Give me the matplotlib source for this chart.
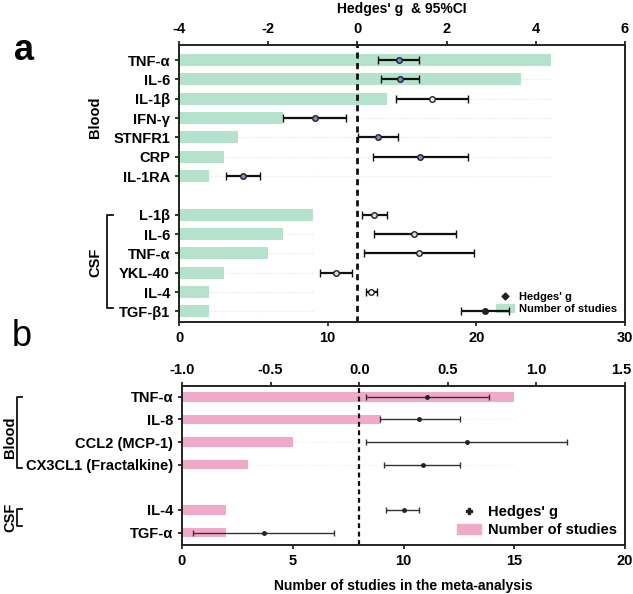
import matplotlib
matplotlib.use("Agg")
import matplotlib.pyplot as plt
import matplotlib.transforms as mtransforms
from matplotlib.lines import Line2D
from matplotlib.patches import Patch
import numpy as np

plt.rcParams['font.family'] = ['Liberation Sans', 'DejaVu Sans']
plt.rcParams['font.weight'] = 'bold'
plt.rcParams['axes.unicode_minus'] = False

# ---------------- Panel a data ----------------
a_labels = ["TNF-α", "IL-6", "IL-1β", "IFN-γ", "STNFR1", "CRP", "IL-1RA",
            "L-1β", "IL-6", "TNF-α", "YKL-40", "IL-4", "TGF-β1"]
a_groups = ["Blood"] * 7 + ["CSF"] * 6
a_studies = [25, 23, 14, 7, 4, 3, 2, 9, 7, 6, 3, 2, 2]
a_g = [0.94, 0.96, 1.68, -0.96, 0.47, 1.41, -2.57, 0.38, 1.28, 1.37, -0.49, 0.31, 2.85]
a_lo = [0.47, 0.52, 0.87, -1.66, 0.02, 0.36, -2.94, 0.11, 0.38, 0.14, -0.83, 0.20, 2.33]
a_hi = [1.39, 1.39, 2.49, -0.25, 0.92, 2.49, -2.19, 0.67, 2.20, 2.62, -0.12, 0.43, 3.40]
a_mfc = ["#7f86d8", "#7f86d8", "#ffffff", "#7f86d8", "#7f86d8", "#7f86d8", "#7f86d8",
         "#d9d9d9", "#d9d9d9", "#d9d9d9", "#d9d9d9", "#ffffff", "#222222"]

# ---------------- Panel b data ----------------
b_labels = ["TNF-α", "IL-8", "CCL2 (MCP-1)", "CX3CL1 (Fractalkine)", "IL-4", "TGF-α"]
b_groups = ["Blood"] * 4 + ["CSF"] * 2
b_studies = [15, 9, 5, 3, 2, 2]
b_g = [0.384, 0.34, 0.61, 0.36, 0.25, -0.54]
b_lo = [0.04, 0.12, 0.04, 0.14, 0.15, -0.94]
b_hi = [0.73, 0.57, 1.17, 0.57, 0.34, -0.14]

GREEN = "#b4e2cd"
PINK = "#f2a9c9"
FS = 10.5

W, H = 633, 594
fig = plt.figure(figsize=(W / 100, H / 100), dpi=100)


def fx(px):
    return px / W


def fy(py):
    return 1 - py / H


def positions(groups):
    pos, p, prev = [], 0, groups[0]
    for g in groups:
        if g != prev:
            p += 1
            prev = g
        pos.append(p)
        p += 1
    return np.array(pos, dtype=float)


def style_axes(ax):
    for s in ax.spines.values():
        s.set_linewidth(1.2)
        s.set_color("#222222")


def bold_ticks(ax, axis="x"):
    labels = ax.get_xticklabels() if axis == "x" else ax.get_yticklabels()
    for t in labels:
        t.set_fontweight("bold")


# ================= Panel a =================
axa = fig.add_axes([fx(179), fy(322), fx(625) - fx(179), fy(45) - fy(322)])
ya = positions(a_groups)
axa.barh(ya, a_studies, height=0.62, color=GREEN, zorder=1)
for grp in ["Blood", "CSF"]:
    idx = [i for i, g in enumerate(a_groups) if g == grp]
    mx = max(a_studies[i] for i in idx)
    axa.hlines(ya[idx], 0, mx, colors="#e4e4e4", linestyles=":", lw=0.8, zorder=0)
axa.set_xlim(0, 30)
axa.set_xticks([0, 10, 20, 30])
axa.set_ylim(13.55, -0.78)
axa.set_yticks(ya)
axa.set_yticklabels(a_labels, fontsize=FS, fontweight="bold")
axa.tick_params(axis="both", length=3, width=1.1, labelsize=FS)
bold_ticks(axa)
style_axes(axa)

axa2 = axa.twiny()
axa2.set_xlim(-4, 6)
axa2.set_xticks([-4, -2, 0, 2, 4, 6])
axa2.tick_params(axis="x", length=3, width=1.1, labelsize=FS)
bold_ticks(axa2)
axa2.axvline(0, color="#111111", ls=(0, (2.2, 1.6)), lw=2.0, zorder=2)
for i in range(len(a_labels)):
    axa2.errorbar(a_g[i], ya[i], xerr=[[a_g[i] - a_lo[i]], [a_hi[i] - a_g[i]]],
                  fmt="o", ms=4, mfc=a_mfc[i], mec="#222222", mew=1.0,
                  ecolor="#111111", elinewidth=1.6, capsize=3, capthick=1.6, zorder=3)
style_axes(axa2)
axa2.set_title("Hedges' g  & 95%CI", fontsize=10, fontweight="bold", pad=23)

axa.legend(handles=[Line2D([], [], marker="D", ls="none", color="#222222", ms=3.5),
                    Patch(color=GREEN)],
           labels=["Hedges' g", "Number of studies"],
           loc="lower right", bbox_to_anchor=(1.0, 0.0), frameon=False,
           prop={"size": 8, "weight": "bold"}, handlelength=1.6,
           handletextpad=0.5, labelspacing=0.2, borderaxespad=0.3)

# ================= Panel b =================
axb = fig.add_axes([fx(182), fy(545), fx(625) - fx(182), fy(386) - fy(545)])
yb = positions(b_groups)
axb.barh(yb, b_studies, height=0.42, color=PINK, zorder=1)
for grp in ["Blood", "CSF"]:
    idx = [i for i, g in enumerate(b_groups) if g == grp]
    mx = max(b_studies[i] for i in idx)
    axb.hlines(yb[idx], 0, mx, colors="#ececec", linestyles=":", lw=0.8, zorder=0)
axb.set_xlim(0, 20)
axb.set_xticks([0, 5, 10, 15, 20])
axb.set_ylim(6.55, -0.48)
axb.set_yticks(yb)
axb.set_yticklabels(b_labels, fontsize=FS, fontweight="bold")
axb.tick_params(axis="both", length=3, width=1.1, labelsize=FS)
bold_ticks(axb)
axb.set_xlabel("Number of studies in the meta-analysis", fontsize=10,
               fontweight="bold", labelpad=8)
style_axes(axb)

axb2 = axb.twiny()
axb2.set_xlim(-1.0, 1.5)
axb2.set_xticks([-1.0, -0.5, 0.0, 0.5, 1.0, 1.5])
axb2.set_xticklabels(["-1.0", "-0.5", "0.0", "0.5", "1.0", "1.5"])
axb2.tick_params(axis="x", length=3, width=1.1, labelsize=FS)
bold_ticks(axb2)
# keep the last top label inside the figure
lastlab = axb2.get_xticklabels()[-1]
lastlab.set_transform(lastlab.get_transform() +
                      mtransforms.ScaledTranslation(-4 / 100, 0, fig.dpi_scale_trans))
axb2.axvline(0, color="#111111", ls=(0, (2.2, 1.6)), lw=1.6, zorder=2)
for i in range(len(b_labels)):
    axb2.errorbar(b_g[i], yb[i], xerr=[[b_g[i] - b_lo[i]], [b_hi[i] - b_g[i]]],
                  fmt="o", ms=2.5, mfc="#222222", mec="#222222",
                  ecolor="#333333", elinewidth=1.0, capsize=2.5, capthick=1.0, zorder=3)
style_axes(axb2)

axb.legend(handles=[Line2D([], [], marker="P", ls="none", color="#222222", ms=4),
                    Patch(color=PINK)],
           labels=["Hedges' g", "Number of studies"],
           loc="lower right", frameon=False,
           prop={"size": 10.5, "weight": "bold"}, handlelength=1.6,
           handletextpad=0.5, labelspacing=0.25, borderaxespad=0.15)

# ================= Group labels & brackets =================
def vtext(px, py, s):
    fig.text(fx(px), fy(py), s, rotation=90, ha="center", va="center",
             fontsize=FS, fontweight="bold")


def bracket(px, y0, y1, tick=6):
    xs = [fx(px + tick), fx(px), fx(px), fx(px + tick)]
    ys = [fy(y0), fy(y0), fy(y1), fy(y1)]
    fig.add_artist(Line2D(xs, ys, transform=fig.transFigure, color="#111111", lw=1.3))


vtext(95, 117, "Blood")
vtext(95, 262, "CSF")
bracket(107, 215, 308)

vtext(10, 437, "Blood")
vtext(10, 517, "CSF")
bracket(17, 397, 468, tick=5)
bracket(17, 509, 526, tick=5)

fig.text(fx(14), fy(50), "a", fontsize=26, fontweight="bold", ha="left", va="center")
fig.text(fx(12), fy(336), "b", fontsize=26, fontweight="normal", ha="left", va="center")

fig.savefig("out.png", dpi=100)
